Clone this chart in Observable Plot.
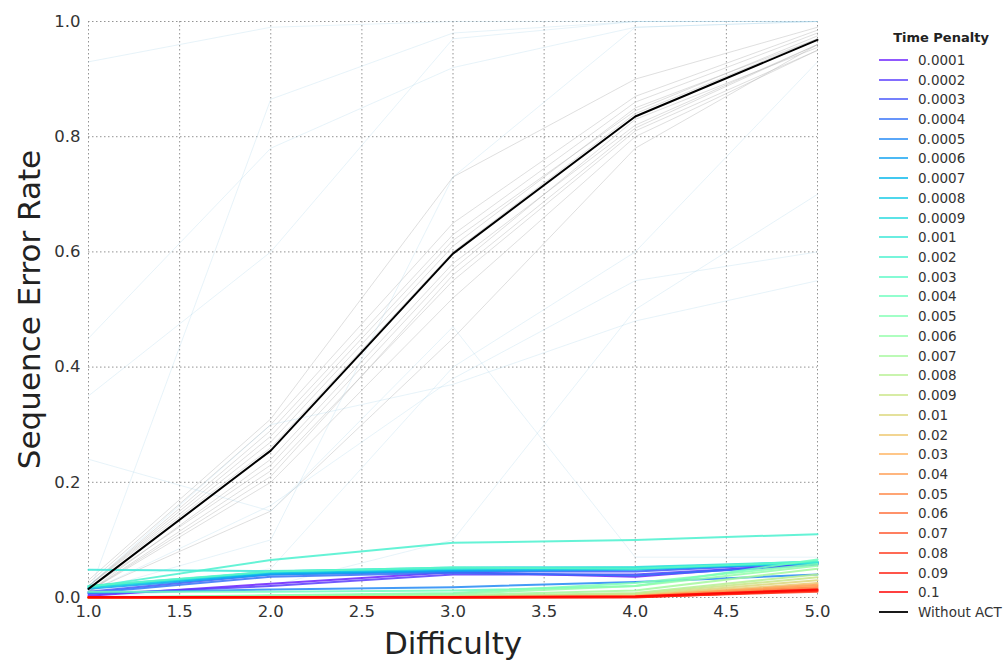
<!DOCTYPE html>
<html>
<head>
<meta charset="utf-8">
<script src="https://cdn.jsdelivr.net/npm/d3@7"></script>
<script src="https://cdn.jsdelivr.net/npm/@observablehq/plot@0.6"></script>
<style>
  html, body { margin: 0; padding: 0; background: #fff; }
  #wrap { position: relative; width: 1004px; height: 661px; font-family: "DejaVu Sans", sans-serif; }
  #legend { position: absolute; left: 870px; top: 30px; width: 134px; }
  #legend .title { font-weight: bold; font-size: 13px; color: #222; text-align: center; width: 124px; margin-left: 9px; height: 20px; }
  #legend .item { height: 19.72px; display: flex; align-items: center; font-size: 13.5px; color: #333; white-space: nowrap; }
  #legend .item svg { margin-left: 9px; margin-right: 10px; }
</style>
</head>
<body>
<div id="wrap"><div id="legend"></div></div>
<script>
const difficulty = [1, 2, 3, 4, 5];
const xTicks = [1.0, 1.5, 2.0, 2.5, 3.0, 3.5, 4.0, 4.5, 5.0];
const yTicks = [0.0, 0.2, 0.4, 0.6, 0.8, 1.0];

const penaltyLabels = ["0.0001","0.0002","0.0003","0.0004","0.0005","0.0006","0.0007","0.0008","0.0009",
  "0.001","0.002","0.003","0.004","0.005","0.006","0.007","0.008","0.009",
  "0.01","0.02","0.03","0.04","0.05","0.06","0.07","0.08","0.09","0.1"];

const penaltyErrors = [
  [0.003, 0.024, 0.044, 0.036, 0.060],
  [0.006, 0.020, 0.040, 0.040, 0.058],
  [0.010, 0.040, 0.045, 0.045, 0.060],
  [0.008, 0.036, 0.043, 0.038, 0.057],
  [0.008, 0.014, 0.018, 0.027, 0.040],
  [0.015, 0.040, 0.046, 0.048, 0.060],
  [0.018, 0.042, 0.048, 0.050, 0.062],
  [0.020, 0.044, 0.050, 0.050, 0.060],
  [0.017, 0.045, 0.052, 0.053, 0.062],
  [0.048, 0.046, 0.050, 0.052, 0.060],
  [0.018, 0.065, 0.095, 0.100, 0.110],
  [0.020, 0.045, 0.052, 0.050, 0.063],
  [0.010, 0.010, 0.012, 0.020, 0.066],
  [0.000, 0.004, 0.008, 0.025, 0.058],
  [0.000, 0.003, 0.006, 0.020, 0.055],
  [0.000, 0.002, 0.004, 0.012, 0.050],
  [0.000, 0.001, 0.002, 0.008, 0.040],
  [0.000, 0.001, 0.002, 0.006, 0.035],
  [0.000, 0.000, 0.001, 0.004, 0.030],
  [0.000, 0.000, 0.000, 0.003, 0.025],
  [0.000, 0.000, 0.000, 0.002, 0.020],
  [0.000, 0.000, 0.000, 0.002, 0.022],
  [0.000, 0.000, 0.000, 0.001, 0.018],
  [0.000, 0.000, 0.000, 0.001, 0.015],
  [0.000, 0.000, 0.000, 0.001, 0.012],
  [0.000, 0.000, 0.000, 0.001, 0.010],
  [0.000, 0.000, 0.000, 0.000, 0.012],
  [0.001, 0.001, 0.001, 0.002, 0.014]
];

const withoutAct = [0.015, 0.255, 0.597, 0.835, 0.968];

const grayRuns = [
  [0.010, 0.240, 0.580, 0.820, 0.960],
  [0.020, 0.270, 0.610, 0.850, 0.970],
  [0.010, 0.220, 0.550, 0.810, 0.950],
  [0.020, 0.290, 0.630, 0.860, 0.980],
  [0.010, 0.200, 0.520, 0.800, 0.950],
  [0.030, 0.310, 0.730, 0.900, 0.990],
  [0.010, 0.150, 0.450, 0.780, 0.960],
  [0.020, 0.260, 0.600, 0.840, 0.970],
  [0.015, 0.230, 0.570, 0.830, 0.955],
  [0.020, 0.280, 0.620, 0.845, 0.975],
  [0.010, 0.210, 0.560, 0.815, 0.960],
  [0.025, 0.300, 0.650, 0.870, 0.985]
];

const faintRuns = [
  [0.930, 0.990, 1.000, 1.000, 1.000],
  [0.005, 0.865, 0.980, 1.000, 1.000],
  [0.450, 0.780, 0.920, 0.990, 1.000],
  [0.010, 0.100, 0.730, 0.990, 1.000],
  [0.000, 0.050, 0.400, 0.600, 0.930],
  [0.000, 0.020, 0.100, 0.500, 0.700],
  [0.240, 0.150, 0.470, 0.070, 0.070],
  [0.020, 0.300, 0.370, 0.480, 0.550],
  [0.010, 0.160, 0.380, 0.550, 0.600],
  [0.350, 0.600, 0.970, 1.000, 1.000]
];

function rainbow(t) {
  const c = v => Math.round(255 * Math.max(0, Math.min(1, v)));
  return `rgb(${c(Math.abs(2 * t - 0.5))},${c(Math.sin(Math.PI * t))},${c(Math.cos(Math.PI * t / 2))})`;
}
const penaltyColors = penaltyLabels.map((_, i) => rainbow(0.04 + 0.96 * i / (penaltyLabels.length - 1)));

const toRows = vals => difficulty.map((d, i) => ({d, v: vals[i]}));

const marks = [
  Plot.gridX(xTicks, {stroke: "#888", strokeOpacity: 0.9, strokeDasharray: "1.5,2.5", strokeWidth: 1}),
  Plot.gridY(yTicks, {stroke: "#888", strokeOpacity: 0.9, strokeDasharray: "1.5,2.5", strokeWidth: 1}),
];
grayRuns.forEach(r => marks.push(Plot.line(toRows(r), {x: "d", y: "v", stroke: "#b8b8b8", strokeOpacity: 0.45, strokeWidth: 1})));
faintRuns.forEach(r => marks.push(Plot.line(toRows(r), {x: "d", y: "v", stroke: "#9fcfe6", strokeOpacity: 0.25, strokeWidth: 1})));
penaltyErrors.forEach((r, i) => marks.push(Plot.line(toRows(r), {x: "d", y: "v", stroke: penaltyColors[i], strokeOpacity: 0.85, strokeWidth: 2})));
marks.push(Plot.line(toRows(withoutAct), {x: "d", y: "v", stroke: "#000", strokeWidth: 2}));
marks.push(
  Plot.axisX(xTicks, {tickSize: 0, tickPadding: 8, fontSize: 16.5, fill: "#333", tickFormat: d3.format(".1f"), label: null}),
  Plot.axisY(yTicks, {tickSize: 0, tickPadding: 8, fontSize: 16.5, fill: "#333", tickFormat: d3.format(".1f"), label: null}),
  Plot.text(["Sequence Error Rate"], {frameAnchor: "left", dx: -58, rotate: -90, textAnchor: "middle", lineAnchor: "middle", fontSize: 31, fill: "#222", text: d => d}),
  Plot.text(["Difficulty"], {frameAnchor: "bottom", dy: 47, textAnchor: "middle", lineAnchor: "middle", fontSize: 31, fill: "#222", text: d => d})
);

const chart = Plot.plot({
  width: 1004,
  height: 661,
  marginLeft: 88,
  marginRight: 187,
  marginTop: 21,
  marginBottom: 64,
  style: {fontFamily: "DejaVu Sans, sans-serif", background: "#fff"},
  x: {domain: [1, 5]},
  y: {domain: [0, 1]},
  marks
});
document.getElementById("wrap").prepend(chart);

const legend = document.getElementById("legend");
const title = document.createElement("div");
title.className = "title";
title.textContent = "Time Penalty";
legend.appendChild(title);
const items = penaltyLabels.map((l, i) => ({label: l, color: penaltyColors[i], op: 0.75}));
items.push({label: "Without ACT", color: "#000", op: 0.9});
items.forEach(it => {
  const row = document.createElement("div");
  row.className = "item";
  row.innerHTML = `<svg width="29" height="4"><line x1="0" x2="29" y1="2" y2="2" stroke="${it.color}" stroke-opacity="${it.op}" stroke-width="2"/></svg><span>${it.label}</span>`;
  legend.appendChild(row);
});
</script>
</body>
</html>
